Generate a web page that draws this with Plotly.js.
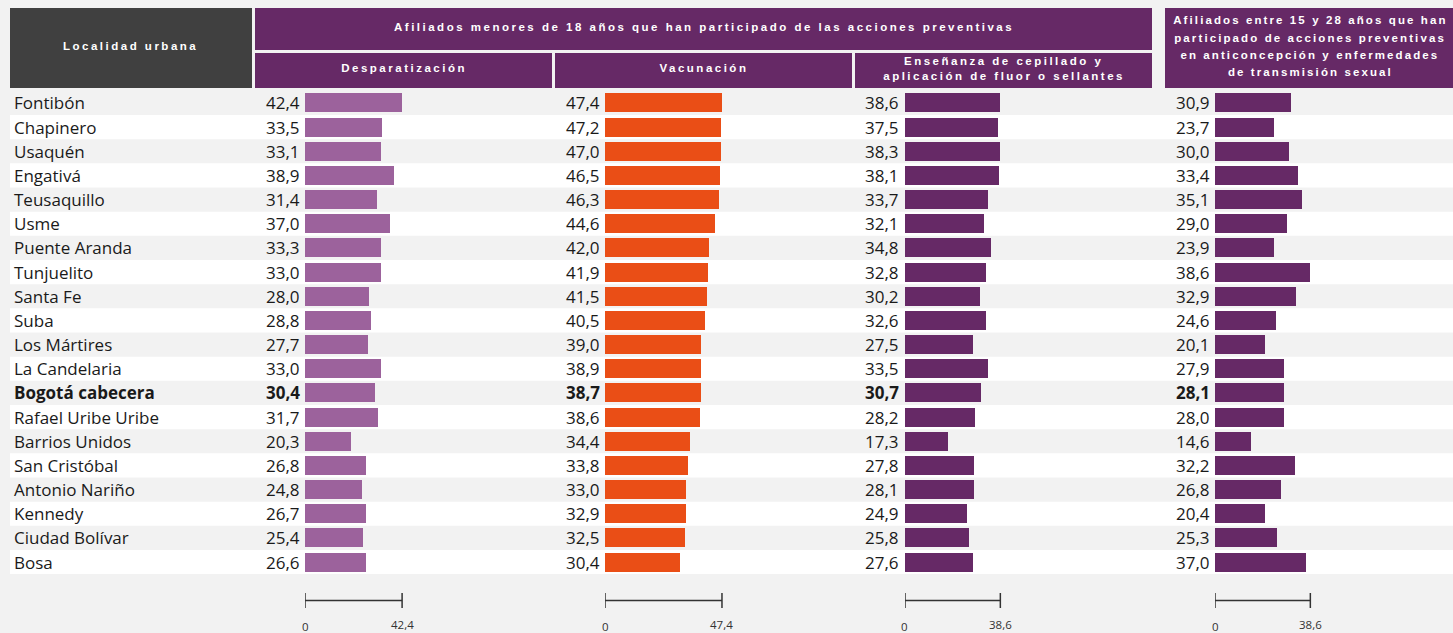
<!DOCTYPE html>
<html>
<head>
<meta charset="utf-8">
<script src="https://cdn.plot.ly/plotly-3.0.1.min.js"></script>
<style>
html,body{margin:0;padding:0;background:#f2f2f2;}
#chart{width:1453px;height:633px;}
</style>
</head>
<body>
<div id="chart"></div>
<script>
// ---- data ----
const localidades = ["Fontibón","Chapinero","Usaquén","Engativá","Teusaquillo","Usme","Puente Aranda","Tunjuelito","Santa Fe","Suba","Los Mártires","La Candelaria","Bogotá cabecera","Rafael Uribe Uribe","Barrios Unidos","San Cristóbal","Antonio Nariño","Kennedy","Ciudad Bolívar","Bosa"];
const desparatizacion = [42.4,33.5,33.1,38.9,31.4,37.0,33.3,33.0,28.0,28.8,27.7,33.0,30.4,31.7,20.3,26.8,24.8,26.7,25.4,26.6];
const vacunacion = [47.4,47.2,47.0,46.5,46.3,44.6,42.0,41.9,41.5,40.5,39.0,38.9,38.7,38.6,34.4,33.8,33.0,32.9,32.5,30.4];
const ensenanza = [38.6,37.5,38.3,38.1,33.7,32.1,34.8,32.8,30.2,32.6,27.5,33.5,30.7,28.2,17.3,27.8,28.1,24.9,25.8,27.6];
const anticoncepcion = [30.9,23.7,30.0,33.4,35.1,29.0,23.9,38.6,32.9,24.6,20.1,27.9,28.1,28.0,14.6,32.2,26.8,20.4,25.3,37.0];
const totalRow = "Bogotá cabecera";

const headerMain = "Afiliados menores de 18 años que han participado de las acciones preventivas";
const headerLocalidad = "Localidad urbana";
const subHeaders = ["Desparatización","Vacunación",["Enseñanza de cepillado y","aplicación de fluor o sellantes"]];
const headerRight = ["Afiliados entre 15 y 28 años que han","participado de acciones preventivas","en anticoncepción y enfermedades","de transmisión sexual"];

// ---- layout helpers (pixel -> paper) ----
const W = 1453, H = 633;
const px = v => v / W;
const py = v => 1 - v / H;

const colors = ["#9c629c","#ea4e16","#662966","#662966"];
const series = [desparatizacion, vacunacion, ensenanza, anticoncepcion];
const axes = ["x","x2","x3","x4"];
// column geometry: [zero px, end px, px per unit]
const cols = [[305,552,2.29],[605,851,2.468],[905,1150,2.47],[1215,1453,2.47]];

const fmt = v => v.toFixed(1).replace('.', ',');

const traces = series.map((s, k) => ({
  type: 'bar', orientation: 'h',
  x: s, y: localidades,
  xaxis: axes[k], yaxis: 'y',
  width: 0.79,
  marker: {color: colors[k], line: {width: 0}},
  hoverinfo: 'skip', showlegend: false
}));

const layout = {
  width: W, height: H,
  margin: {l:0, r:0, t:0, b:0, pad:0},
  paper_bgcolor: '#f2f2f2',
  plot_bgcolor: 'rgba(0,0,0,0)',
  showlegend: false,
  bargap: 0,
  yaxis: {
    type: 'category', categoryarray: localidades, categoryorder: 'array',
    range: [localidades.length - 0.5, -0.5],
    domain: [py(574.2), py(90.8)],
    showticklabels: false, showgrid: false, zeroline: false, showline: false, ticks: ''
  },
  shapes: [],
  annotations: []
};
cols.forEach((c, k) => {
  const name = k === 0 ? 'xaxis' : 'xaxis' + (k + 1);
  layout[name] = {
    domain: [px(c[0]), px(c[1])],
    range: [0, (c[1] - c[0]) / c[2]],
    anchor: 'y',
    showticklabels: false, showgrid: false, zeroline: false, showline: false, ticks: '', fixedrange: true
  };
});

// row stripes
localidades.forEach((n, i) => {
  if (i % 2 === 1) {
    layout.shapes.push({type:'rect', layer:'below', xref:'paper', yref:'y',
      x0: px(10), x1: 1, y0: i - 0.5, y1: i + 0.5,
      fillcolor:'#ffffff', line:{width:0}});
  }
});

// header boxes
const box = (x0,x1,y0,y1,c) => layout.shapes.push({type:'rect', layer:'above', xref:'paper', yref:'paper',
  x0: px(x0), x1: px(x1), y0: py(y1), y1: py(y0), fillcolor: c, line:{width:0}});
box(10,252,8,88,'#404040');
box(255,1152,8,50,'#662966');
box(255,552,53,88,'#662966');
box(555,852,53,88,'#662966');
box(855,1152,53,88,'#662966');
box(1165,1453,8,88,'#662966');

// header texts (first annotations -> letter spacing applied)
const hfont = {family:'"Liberation Sans", Arial, sans-serif', size:11.5, color:'#ffffff', weight:'bold'};
const hann = (text, x, y) => layout.annotations.push({text, xref:'paper', yref:'paper',
  x: px(x), y: py(y), xanchor:'center', yanchor:'middle', showarrow:false, font:hfont, borderpad:0});
hann(headerLocalidad, 131, 46);
hann(headerMain, 703.5, 27);
hann(subHeaders[0], 403.5, 68.5);
hann(subHeaders[1], 703.5, 68.5);
hann(subHeaders[2][0], 1003.5, 61);
hann(subHeaders[2][1], 1003.5, 75.5);
const nMainHeader = layout.annotations.length;
headerRight.forEach((t, i) => hann(t, 1310, 20.5 + i * 17));
const nHeader = layout.annotations.length;

// category names
const tfont = {family:'"Open Sans", "Noto Sans", sans-serif', size:17, color:'#1a1a1a'};
localidades.forEach((n) => {
  const bold = n === totalRow;
  layout.annotations.push({text: bold ? '<b>' + n + '</b>' : n, xref:'paper', yref:'y',
    x: px(13), y: n, xanchor:'left', yanchor:'middle', showarrow:false, font:tfont, borderpad:0});
});

// value labels
series.forEach((s, k) => {
  s.forEach((v, i) => {
    const bold = localidades[i] === totalRow;
    const t = fmt(v);
    layout.annotations.push({text: bold ? '<b>' + t + '</b>' : t, xref: axes[k], yref:'y',
      x: 0, y: localidades[i], xanchor:'right', yanchor:'middle', xshift:-4.5,
      showarrow:false, font:tfont, borderpad:0});
  });
});

// scale bars
const sfont = {family:'"Open Sans", "Noto Sans", sans-serif', size:11.5, color:'#333333'};
series.forEach((s, k) => {
  const m = Math.max(...s);
  const ln = {color:'#333333', width:1.5};
  layout.shapes.push({type:'line', xref:axes[k], yref:'paper', x0:0, x1:m, y0:py(600.5), y1:py(600.5), line:ln});
  layout.shapes.push({type:'line', xref:axes[k], yref:'paper', x0:0, x1:0, y0:py(593), y1:py(608), line:ln});
  layout.shapes.push({type:'line', xref:axes[k], yref:'paper', x0:m, x1:m, y0:py(593), y1:py(608), line:ln});
  layout.annotations.push({text:'0', xref:axes[k], yref:'paper', x:0, y:py(626), xanchor:'center', yanchor:'middle', showarrow:false, font:sfont, borderpad:0});
  layout.annotations.push({text:fmt(m), xref:axes[k], yref:'paper', x:m, y:py(624), xanchor:'center', yanchor:'middle', showarrow:false, font:sfont, borderpad:0});
});

Plotly.newPlot('chart', traces, layout, {displayModeBar:false, staticPlot:true}).then(() => {
  document.querySelectorAll('#chart g.annotation').forEach(g => {
    const idx = +g.getAttribute('data-index');
    if (idx < nHeader) {
      const sp = idx < nMainHeader ? '2.5px' : '2.1px';
      g.querySelectorAll('text').forEach(t => t.style.letterSpacing = sp);
    }
  });
});
</script>
</body>
</html>
